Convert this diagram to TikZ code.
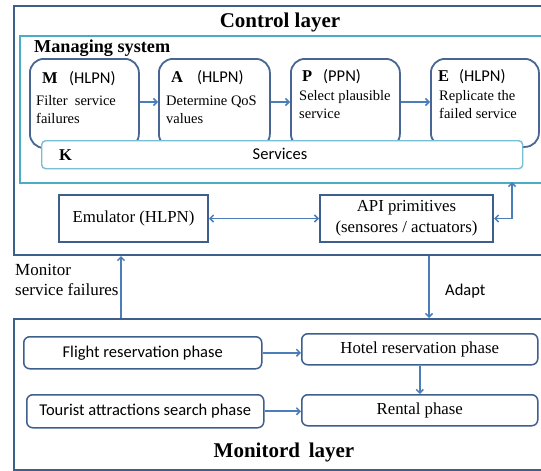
\documentclass[tikz,border=0pt]{standalone}
\usepackage{fontspec}
\setmainfont{Liberation Serif}
\newfontfamily\calfnt{Carlito}
\usetikzlibrary{arrows.meta}
\definecolor{dkb}{RGB}{62,94,140}
\definecolor{boxb}{RGB}{72,102,148}
\definecolor{arr}{RGB}{74,126,187}
\definecolor{mteal}{RGB}{75,172,198}
\definecolor{lteal}{RGB}{120,190,212}
\tikzset{
  layer/.style={draw=dkb, line width=2pt, rectangle, anchor=north west, inner sep=0pt},
  mgr/.style={draw=mteal, line width=1.8pt, rectangle, anchor=north west, inner sep=0pt},
  mape/.style={draw=boxb, line width=1.8pt, rounded corners=14pt, fill=white, anchor=north west, inner sep=0pt},
  kbox/.style={draw=lteal, line width=1.4pt, rounded corners=4pt, fill=white, anchor=north west, inner sep=0pt},
  sqbox/.style={draw=dkb, line width=2pt, rectangle, anchor=north west, inner sep=0pt, fill=white},
  phase/.style={draw=dkb, line width=1.5pt, rounded corners=6pt, anchor=north west, inner sep=0pt, fill=white},
  conn/.style={draw=arr, line width=1.8pt, -{Straight Barb[length=3.5pt,width=7pt,line width=1.5pt]}},
  dconn/.style={draw=arr, line width=1.8pt, {Straight Barb[length=3.5pt,width=7pt,line width=1.5pt]}-{Straight Barb[length=3.5pt,width=7pt,line width=1.5pt]}},
  ttl/.style={font=\fontsize{21}{24}\selectfont\bfseries, inner sep=0pt},
  lbl/.style={font=\fontsize{14.5}{18}\selectfont, inner sep=0pt, anchor=base west},
  ltr/.style={font=\fontsize{16.5}{18}\selectfont\bfseries, inner sep=0pt, anchor=base west},
  sns/.style={font=\calfnt\fontsize{16.5}{18}\selectfont, inner sep=0pt},
  srf/.style={font=\fontsize{16.8}{21}\selectfont, inner sep=0pt, align=center},
}
\begin{document}
\begin{tikzpicture}[x=1pt,y=-1pt]
\clip (0,0) rectangle (541,471);
\fill[white] (0,0) rectangle (541,471);
% layers
\node[layer, minimum width=560pt, minimum height=249pt] (ctrl) at (13,5) {};
\node[mgr, minimum width=560pt, minimum height=147pt] (mgs) at (19,35) {};
\node[layer, minimum width=560pt, minimum height=151pt] (mon) at (13,318) {};
\node[ttl] (ctrlt) at (280,22.5) {Control layer};
\node[font=\fontsize{18.2}{20}\selectfont\bfseries, inner sep=0pt, anchor=west] (mgst) at (34,48) {Managing system};
% MAPE boxes
\node[mape, minimum width=109pt, minimum height=89pt] (M) at (29,58) {};
\node[mape, minimum width=111pt, minimum height=89pt] (A) at (158,58) {};
\node[mape, minimum width=109pt, minimum height=89pt] (P) at (290,58) {};
\node[mape, minimum width=108pt, minimum height=88pt] (E) at (430,58) {};
\draw[conn] (M.east |- 0,102) coordinate (m1) -- (A.west |- m1);
\draw[conn] (A.east |- 0,102) coordinate (a1) -- (P.west |- a1);
\draw[conn] (P.east |- 0,102) coordinate (p1) -- (E.west |- p1);
% text in MAPE
\node[ltr] (Ml) at (42,83.5) {M};
\node[sns, anchor=base west] (Mh) at (69,83.5) {(HLPN)};
\node[lbl] (Mt1) at (36,105) {Filter\ \ service};
\node[lbl] (Mt2) at (36,123) {failures};
\node[ltr] (Al) at (171,82.5) {A};
\node[sns, anchor=base west] (Ah) at (197,82.5) {(HLPN)};
\node[lbl] (At1) at (166,105) {Determine QoS};
\node[lbl] (At2) at (166,123) {values};
\node[ltr] (Pl) at (302,81.5) {P};
\node[sns, anchor=base west] (Ph) at (323,81.5) {(PPN)};
\node[lbl] (Pt1) at (299,100) {Select plausible};
\node[lbl] (Pt2) at (299,118) {service};
\node[ltr] (El) at (438,81.5) {E};
\node[sns, anchor=base west] (Eh) at (459,81.5) {(HLPN)};
\node[lbl] (Et1) at (439,100) {Replicate the};
\node[lbl] (Et2) at (439,118) {failed service};
% K box
\node[kbox, minimum width=481pt, minimum height=28pt] (K) at (41,140) {};
\node[ltr] (Kl) at (59,160) {K};
\node[sns] (Ks) at (280,154) {Services};
% emulator / API
\node[sqbox, minimum width=149pt, minimum height=47pt] (emu) at (58,194) {};
\node[srf] (emut) at (emu.center) {Emulator (HLPN)};
\node[sqbox, minimum width=173pt, minimum height=47pt] (api) at (319,194) {};
\node[srf] (apit) at (api.center) {API primitives\\(sensores / actuators)};
\draw[dconn] (emu.east) -- (api.west);
\coordinate (msb) at (512,182);
\draw[dconn] (api.east) -| (msb);
% between layers
\coordinate (upx) at (121,0);
\coordinate (dnx) at (429,0);
\draw[conn] (mon.north -| upx) -- (ctrl.south -| upx);
\draw[conn] (ctrl.south -| dnx) -- (mon.north -| dnx);
\node[font=\fontsize{17}{19.5}\selectfont, inner sep=0pt, align=left, anchor=west] (mont) at (15,280) {Monitor\\service failures};
\node[sns, anchor=west] (adapt) at (445,291) {Adapt};
% monitored layer
\node[phase, minimum width=238pt, minimum height=32pt] (fl) at (23,336) {};
\node[sns] (flt) at (fl.center) {Flight reservation phase};
\node[phase, minimum width=236pt, minimum height=31pt] (ho) at (301,333) {};
\node[srf] (hot) at (ho.center) {Hotel reservation phase};
\node[phase, minimum width=237pt, minimum height=33pt] (to) at (26,394) {};
\node[sns] (tot) at (to.center) {Tourist attractions search phase};
\node[phase, minimum width=236pt, minimum height=31pt] (re) at (301,394) {};
\node[srf] (ret) at (re.center) {Rental phase};
\draw[conn] (fl.east) -- (fl.east -| ho.west);
\draw[conn] (to.east) -- (to.east -| re.west);
\draw[conn] (ho.south) -- (re.north);
\node[ttl] (mont2) at (284,452.5) {Monitord\ \,layer};
\end{tikzpicture}
\end{document}
